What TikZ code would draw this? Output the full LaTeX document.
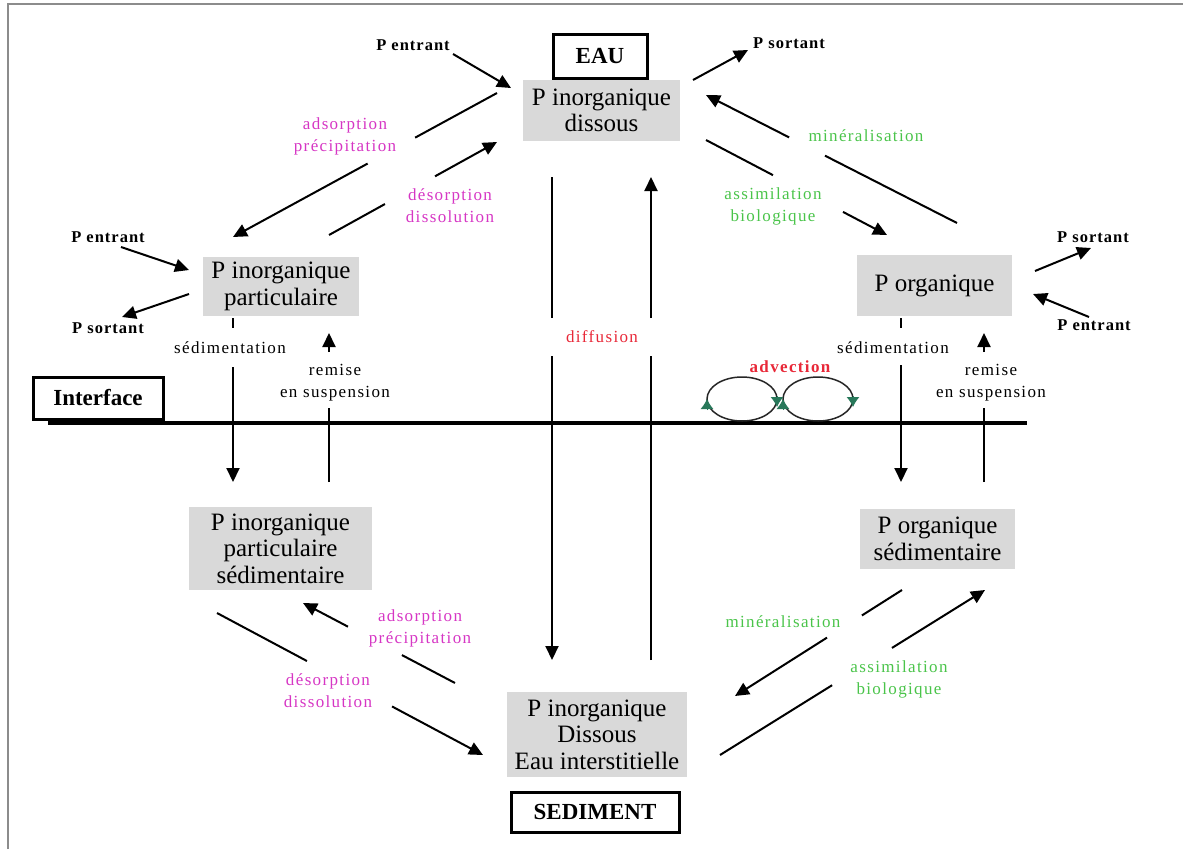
\documentclass[tikz,border=0pt]{standalone}
\usepackage{fontspec}
\setmainfont{Liberation Serif}
\newfontfamily\lblfont{Liberation Serif}[LetterSpace=8]
\newfontfamily\iofont{Liberation Serif}[LetterSpace=6]
\usetikzlibrary{arrows.meta,calc}
\definecolor{boxgrey}{RGB}{217,217,217}
\definecolor{labmag}{RGB}{214,54,196}
\definecolor{labgreen}{RGB}{74,196,74}
\definecolor{labred}{RGB}{232,40,56}
\definecolor{loopgreen}{RGB}{40,120,90}
\definecolor{framegrey}{RGB}{140,140,140}
% arrow with an interruption between fractions #3 and #4 of its length
\newcommand\gapflux[4]{%
  \draw[plain] (#1) -- ($(#1)!#3!(#2)$);
  \draw[flux] ($(#1)!#4!(#2)$) -- (#2);}
\begin{document}
\begin{tikzpicture}[x=1pt,y=-1pt,
  pool/.style={fill=boxgrey, align=center, inner sep=0pt, font=\fontsize{25}{26.5}\selectfont},
  zone/.style={draw=black, line width=3pt, fill=white, inner sep=0pt, font=\bfseries\fontsize{23}{26}\selectfont},
  flux/.style={line width=2pt, -{Triangle[length=14pt,width=13pt]}},
  plain/.style={line width=2pt},
  lab/.style={align=center, inner sep=0pt, font=\lblfont\fontsize{17}{22}\selectfont},
  io/.style={inner sep=0pt, font=\iofont\bfseries\fontsize{16.5}{20}\selectfont},
  loop/.style={line width=1.5pt, draw=black!85},
  looptip/.style={loopgreen, line width=1pt, -{Latex[length=10pt,width=13pt]}},
]
\useasboundingbox (0,0) rectangle (1183,849);
% page frame
\draw[framegrey, line width=1.5pt] (8,849) -- (8,4) -- (1183,4);

% compartments
\node[pool, minimum width=157pt, minimum height=61pt] (pid) at (601.5,110.5) {P inorganique\\dissous};
\node[zone, minimum width=94pt, minimum height=44pt] (eau) at (600,56) {EAU};
\node[pool, minimum width=156pt, minimum height=59pt] (pip) at (281,286.5) {P inorganique\\particulaire};
\node[pool, minimum width=155pt, minimum height=61pt] (po) at (934.5,285.5) {P organique};
\node[pool, minimum width=183pt, minimum height=83pt] (pips) at (280.5,548.5) {P inorganique\\particulaire\\sédimentaire};
\node[pool, minimum width=155pt, minimum height=60pt] (pos) at (937.5,539) {P organique\\sédimentaire};
\node[pool, minimum width=180pt, minimum height=85pt] (pide) at (597,734.5) {P inorganique\\Dissous\\Eau interstitielle};
\node[zone, minimum width=168pt, minimum height=40pt] (sed) at (595,812) {SEDIMENT};
\node[zone, minimum width=130pt, minimum height=42pt] (iface) at (98,398) {Interface};

% interface line
\coordinate (ifl) at (48,423);
\coordinate (ifr) at (1027,423);
\draw[line width=4pt] (ifl) -- (ifr);

% inputs / outputs
\node[io] (pe1) at (413,45) {P entrant};
\node[io] (ps1) at (789,43) {P sortant};
\node[io] (pe2) at (108,237) {P entrant};
\node[io] (ps2) at (108,328) {P sortant};
\node[io] (ps3) at (1093,237) {P sortant};
\node[io] (pe3) at (1094,325) {P entrant};
\coordinate (pe1t) at (453,54);   \coordinate (pe1h) at (511,88);
\coordinate (ps1t) at (693,80);   \coordinate (ps1h) at (748,50);
\coordinate (pe2t) at (121,247);  \coordinate (pe2h) at (189,270);
\coordinate (ps2t) at (189,294);  \coordinate (ps2h) at (122,317);
\coordinate (ps3t) at (1035,271); \coordinate (ps3h) at (1091,248);
\coordinate (pe3t) at (1089,317); \coordinate (pe3h) at (1033,294);
\draw[flux] (pe1t) -- (pe1h);
\draw[flux] (ps1t) -- (ps1h);
\draw[flux] (pe2t) -- (pe2h);
\draw[flux] (ps2t) -- (ps2h);
\draw[flux] (ps3t) -- (ps3h);
\draw[flux] (pe3t) -- (pe3h);

% water column exchanges
\coordinate (a1) at (497,93);  \coordinate (a2) at (233,237);
\coordinate (d1) at (329,235); \coordinate (d2) at (497,142);
\gapflux{a1}{a2}{0.31}{0.49}
\gapflux{d1}{d2}{0.333}{0.631}
\node[lab, text=labmag] (adsw) at (345,136) {adsorption\\précipitation};
\node[lab, text=labmag] (desw) at (450,206) {désorption\\dissolution};

\coordinate (m1) at (957,223); \coordinate (m2) at (706,95);
\coordinate (s1) at (706,140); \coordinate (s2) at (887,235);
\gapflux{m1}{m2}{0.526}{0.669}
\gapflux{s1}{s2}{0.37}{0.757}
\node[lab, text=labgreen] (minw) at (866,136) {minéralisation};
\node[lab, text=labgreen] (assw) at (773,206) {assimilation\\biologique};

% settling and resuspension
\coordinate (sd1) at (233,318); \coordinate (sd2) at (233,482);
\coordinate (rs1) at (329,482); \coordinate (rs2) at (329,333);
\gapflux{sd1}{sd2}{0.061}{0.30}
\gapflux{rs1}{rs2}{0.497}{0.872}
\node[lab] (sedl) at (230,348) {sédimentation};
\node[lab] (resl) at (335,383) {remise\\en suspension};

\coordinate (so1) at (901,318); \coordinate (so2) at (901,482);
\coordinate (ro1) at (984,482); \coordinate (ro2) at (984,333);
\gapflux{so1}{so2}{0.061}{0.287}
\gapflux{ro1}{ro2}{0.497}{0.872}
\node[lab] (sedr) at (893,348) {sédimentation};
\node[lab] (resr) at (991,383) {remise\\en suspension};

% diffusion
\coordinate (df1) at (552,177); \coordinate (df2) at (552,660);
\coordinate (du1) at (651,660); \coordinate (du2) at (651,177);
\gapflux{df1}{df2}{0.292}{0.371}
\gapflux{du1}{du2}{0.629}{0.708}
\node[lab, text=labred] (dif) at (602,337) {diffusion};

% advection loops
\draw[loop] (742,399) ellipse [x radius=35, y radius=22];
\draw[loop] (818,399) ellipse [x radius=35, y radius=22];
\draw[looptip] (707,410) -- (707,399);
\draw[looptip] (777,396) -- (777,407);
\draw[looptip] (783,410) -- (783,399);
\draw[looptip] (853,396) -- (853,407);
\node[lab, text=labred, font=\lblfont\bfseries\fontsize{17}{20}\selectfont] (adv) at (790,367) {advection};

% sediment exchanges
\coordinate (bd1) at (217,613); \coordinate (bd2) at (483,755);
\coordinate (ba1) at (455,683); \coordinate (ba2) at (303,603);
\gapflux{bd1}{bd2}{0.338}{0.658}
\gapflux{ba1}{ba2}{0.349}{0.704}
\node[lab, text=labmag] (desb) at (328,691) {désorption\\dissolution};
\node[lab, text=labmag] (adsb) at (420,628) {adsorption\\précipitation};

\coordinate (bm1) at (902,590); \coordinate (bm2) at (735,696);
\coordinate (bs1) at (720,755); \coordinate (bs2) at (985,590);
\gapflux{bm1}{bm2}{0.24}{0.449}
\gapflux{bs1}{bs2}{0.423}{0.649}
\node[lab, text=labgreen] (minb) at (783,622) {minéralisation};
\node[lab, text=labgreen] (assb) at (899,679) {assimilation\\biologique};
\end{tikzpicture}
\end{document}
